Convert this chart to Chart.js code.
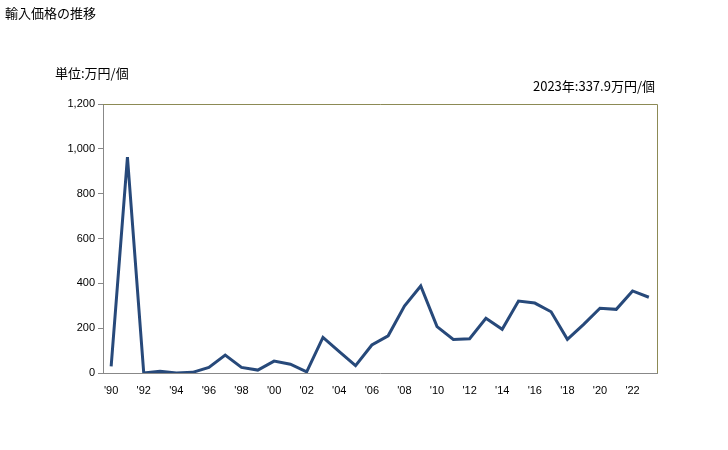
<!DOCTYPE html>
<html>
<head>
<meta charset="utf-8">
<script src="https://cdn.jsdelivr.net/npm/chart.js@4"></script>
<style>
  body { margin: 0; background: #fff; font-family: "Noto Sans CJK JP", sans-serif; }
  #wrap { position: relative; width: 728px; height: 450px; }
  .lbl { position: absolute; font-size: 13px; color: #000; white-space: nowrap; }
</style>
</head>
<body>
<div id="wrap">
  <canvas id="chart" width="728" height="450"></canvas>
  <div class="lbl" style="left:5px; top:3px;">輸入価格の推移</div>
  <div class="lbl" style="left:55px; top:63px;">単位:万円/個</div>
  <div class="lbl" style="right:73px; top:76px;">2023年:337.9万円/個</div>
</div>
<script>
// years 1990 - 2023
const years = ['90','91','92','93','94','95','96','97','98','99','00','01','02','03','04','05','06','07','08','09','10','11','12','13','14','15','16','17','18','19','20','21','22','23'];
const prices = [30, 963, 0, 8, 0, 3, 25, 80, 25, 13, 53, 39, 5, 159, 95, 33, 125, 166, 299, 388, 207, 150, 153, 244, 195, 321, 312, 273, 150, 217, 289, 284, 366, 337.9];
const yTicks = [0, 200, 400, 600, 800, 1000, 1200];

// frame: top and right edges in olive
const framePlugin = {
    id: 'frame',
    afterDraw(chart) {
        const a = chart.chartArea;
        const ctx = chart.ctx;
        ctx.save();
        ctx.strokeStyle = '#8c8a55';
        ctx.lineWidth = 1;
        ctx.beginPath();
        ctx.moveTo(a.left, a.top + 0.5);
        ctx.lineTo(a.right + 0.5, a.top + 0.5);
        ctx.lineTo(a.right + 0.5, a.bottom);
        ctx.stroke();
        ctx.restore();
    }
};

new Chart(document.getElementById('chart').getContext('2d'), {
    type: 'line',
    data: {
        labels: years,
        datasets: [{
            data: prices,
            borderColor: '#27497a',
            borderWidth: 3,
            pointRadius: 0,
            tension: 0,
            fill: false
        }]
    },
    options: {
        responsive: false,
        animation: false,
        layout: { padding: { top: 104, right: 71, left: 0, bottom: 0 } },
        plugins: { legend: { display: false }, tooltip: { enabled: false } },
        scales: {
            x: {
                offset: true,
                grid: { display: false },
                border: { display: true, color: '#888888', width: 1 },
                ticks: {
                    autoSkip: false,
                    maxRotation: 0,
                    color: '#000',
                    font: { family: 'Arial, "Liberation Sans"', size: 11 },
                    padding: 3,
                    callback: (v, i) => i % 2 === 0 ? "'" + years[i] : ''
                },
                afterFit: s => { s.height = 77; }
            },
            y: {
                min: 0,
                max: 1200,
                afterBuildTicks: s => { s.ticks = yTicks.map(v => ({ value: v })); },
                grid: { drawOnChartArea: false, drawTicks: true, tickLength: 5, color: '#888888' },
                border: { display: true, color: '#888888', width: 1 },
                ticks: {
                    color: '#000',
                    font: { family: 'Arial, "Liberation Sans"', size: 11 },
                    padding: 3,
                    callback: v => v.toLocaleString('en-US')
                },
                afterFit: s => { s.width = 103; }
            }
        }
    },
    plugins: [framePlugin]
});
</script>
</body>
</html>
